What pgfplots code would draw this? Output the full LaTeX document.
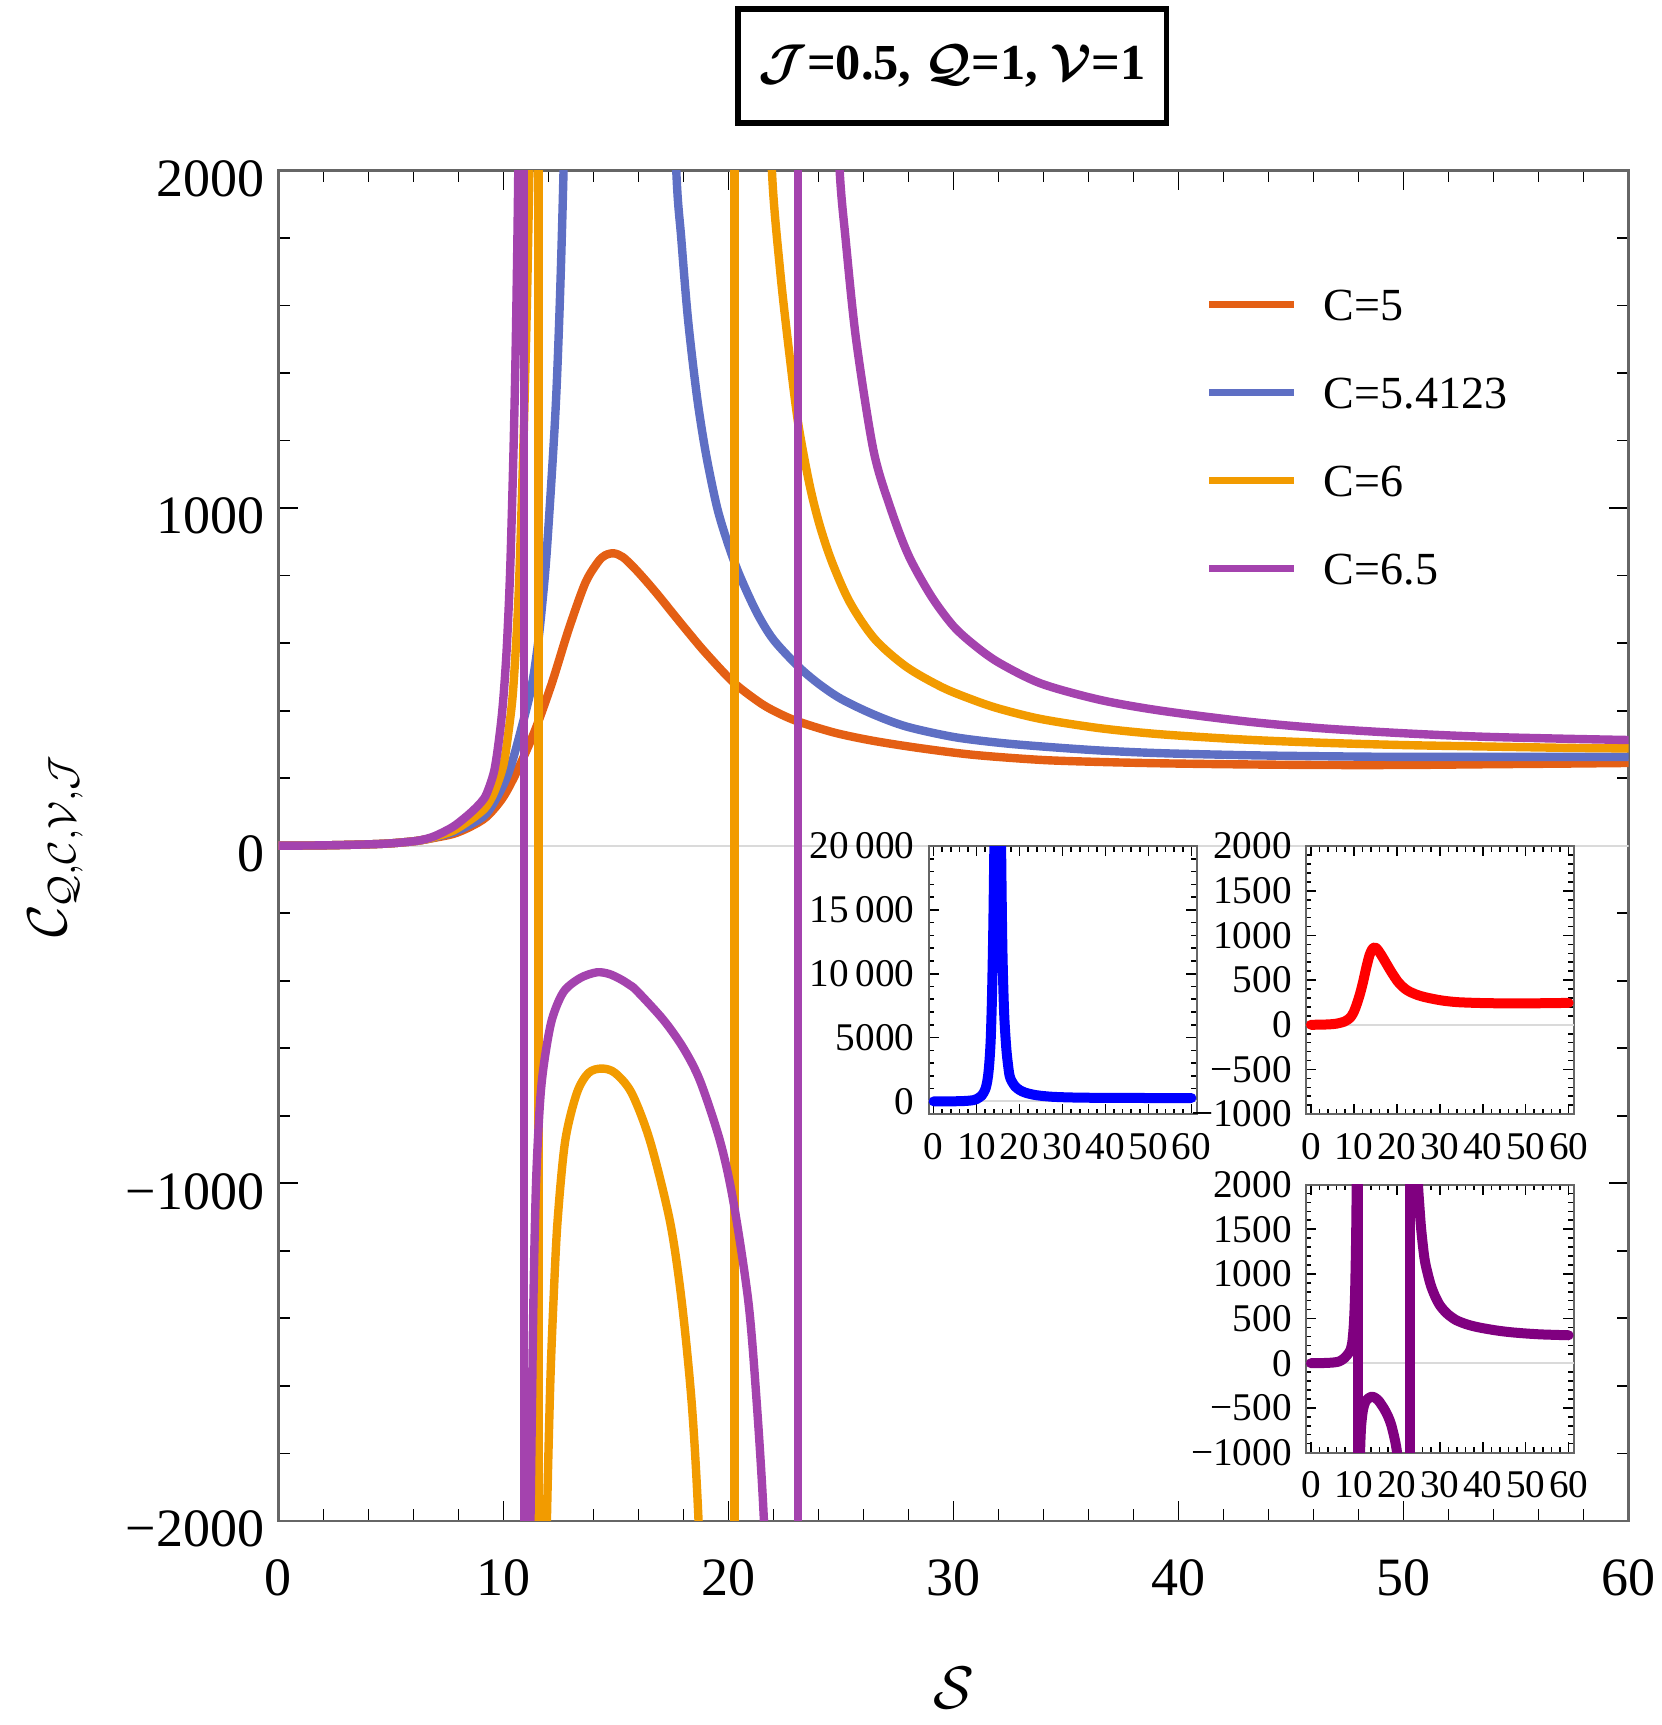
\RequirePackage{fix-cm}
\documentclass[border=0pt]{standalone}
\usepackage{fontspec}
\setmainfont{Liberation Serif}
\usepackage{pgfplots}
\pgfplotsset{compat=1.18}
\usepackage{pgfplotstable}

\definecolor{cfive}{HTML}{E45F14}
\definecolor{cblue}{HTML}{5E6FC4}
\definecolor{csix}{HTML}{F29B00}
\definecolor{cpurp}{HTML}{A443AE}
\definecolor{zline}{HTML}{DADADA}
\definecolor{frameg}{HTML}{666666}
\definecolor{insetpurple}{HTML}{800080}

% C = 5
\pgfplotstableread{
x y
0 0
2 1
4 4
5 7
6 13
6.5 18
7 24
7.78 35
8.5 55
9.26 86
10 145
10.67 230
11.41 343
12.15 481
12.89 639
13.63 777
14.2 840
14.52 860
14.9 866
15.3 855
15.78 825
16.3 787
16.9 740
17.6 682
18.3 625
19.0 570
20.2 485
21.3 428
22.0 400
23.0 370
24.7 335
26.4 311
28.5 289
30.9 269
33.9 254
36.5 248
39.2 244
42.5 241
46.3 239
50 239
53.4 241
57 243
60 245
}\cfivetab

% C = 5.4123, left and right of the peak
\pgfplotstableread{
x y
0 0
2 1
4 4
5 7
6 13
6.5 18
7 26
7.78 40
8.5 62
9.26 96
10 180
10.44 260
11.19 452
11.5 580
11.7 700
11.93 876
12.3 1271
12.5 1600
12.67 2000
12.85 2600
13.2 3500
}\cblueA
\pgfplotstableread{
x y
17.1 3500
17.4 2600
17.68 2000
17.9 1800
18.2 1560
18.6 1330
19.0 1160
19.5 1000
20.0 890
20.5 800
21.26 690
22.0 610
23.1 531
24.0 480
25.0 435
26.4 390
27.9 353
30.0 322
32.0 305
33.9 294
36.5 282
39.2 274
43 268
46.3 265
50 263
55 263
60 263
}\cblueB

% C = 5.4123, full peak for the inset
\pgfplotstableread{
x y
0 0
2 1
4 4
6 13
7.78 40
9.26 96
10 180
11.19 452
11.93 876
12.3 1271
12.67 2000
13.0 3200
13.3 5000
13.6 8500
13.9 14000
14.2 22000
14.5 30000
15.0 33000
15.4 30000
15.7 20000
16.0 12000
16.4 7000
16.9 4200
17.3 2900
17.68 2000
18.2 1560
19.0 1160
20.0 890
21.26 690
23.1 531
25.0 435
27.9 353
32.0 305
36.5 282
43 268
50 263
60 263
}\cblueinset

% C = 6, three branches
\pgfplotstableread{
x y
0 0
2 1
4 4
5 7
6 13
6.5 18
7 27
7.78 45
8.5 75
9.0 100
9.26 118
9.6 160
10.0 240
10.25 350
10.44 470
10.67 740
10.85 1100
11.0 1480
11.1 1800
11.2 2200
11.3 2800
11.4 3400
}\csixA
\pgfplotstableread{
x y
11.7 -3000
11.8 -2500
11.93 -2000
12.08 -1595
12.22 -1354
12.4 -1116
12.74 -876
13.26 -733
13.78 -673
14.37 -660
14.96 -673
15.7 -733
16.52 -876
17.41 -1116
17.93 -1354
18.37 -1654
18.67 -2000
19.0 -2600
19.3 -3100
}\csixB
\pgfplotstableread{
x y
21.6 3000
21.75 2500
21.93 2000
22.3 1700
22.7 1460
23.1 1250
23.6 1070
24.05 950
24.6 840
25.4 720
26.5 612
27.9 530
29.5 469
30.9 431
32.07 405
33.9 375
36.5 348
39.2 330
43 314
46.3 305
50 298
53.4 294
57 290
60 288
}\csixC

% C = 6.5, three branches
\pgfplotstableread{
x y
0 0
2 1
4 4
5 7
6 13
6.5 19
7 30
7.78 57
8.5 95
9.0 128
9.26 155
9.6 225
9.85 340
10.0 440
10.15 590
10.3 820
10.45 1180
10.55 1500
10.65 1950
10.75 2600
10.8 3100
}\csevA
\pgfplotstableread{
x y
11.05 -3000
11.1 -2500
11.2 -2000
11.33 -1354
11.45 -996
11.63 -756
11.82 -637
12.15 -516
12.67 -433
13.41 -392
14.15 -375
14.7 -380
15.19 -395
15.6 -412
15.93 -430
17.11 -516
18.0 -600
18.74 -697
19.63 -876
20.22 -1055
20.89 -1354
21.26 -1654
21.56 -1978
21.8 -2400
22.1 -3000
}\csevB
\pgfplotstableread{
x y
24.5 3000
24.7 2400
24.94 2000
25.2 1800
25.67 1500
26.44 1172
27.2 1000
28.0 860
29.0 740
30.0 650
31.0 590
32.07 540
33.9 480
36.5 432
39.2 400
43 368
46.3 348
50 333
53.4 323
57 317
60 313
}\csevC

\pgfplotsset{
  inset/.style={
    anchor=south west, scale only axis, width=67pt, height=67pt,
    xmin=-1.2, xmax=61.2, scaled ticks=false,
    xtick={0,10,...,60}, xticklabels={0,10,20,30,40,50,60},
    minor x tick num=4, minor y tick num=4,
    tick align=inside, major tick length=2.6pt, minor tick length=1.4pt,
    tick style={black, line width=0.4pt},
    axis line style={frameg, line width=0.5pt},
    ticklabel style={font=\fontsize{9.8}{11}\selectfont},
    xticklabel style={yshift=-1.2pt},
    every axis plot/.append style={line width=2.5pt, line join=round, line cap=round},
  },
}

\begin{document}
\begin{tikzpicture}
\path[use as bounding box] (-69.6pt,-51pt) rectangle (345.7pt,380.2pt);

\begin{axis}[
  at={(0pt,0pt)}, anchor=south west,
  scale only axis, width=337.5pt, height=337.6pt,
  xmin=0, xmax=60, ymin=-2000, ymax=2000,
  xtick={0,10,...,60}, xticklabels={0,10,20,30,40,50,60},
  ytick={-2000,-1000,0,1000,2000}, yticklabels={−2000,−1000,0,1000,2000},
  minor x tick num=4, minor y tick num=4,
  tick align=inside, major tick length=5pt, minor tick length=3pt,
  tick style={black, line width=0.45pt},
  axis line style={frameg, line width=0.6pt},
  xticklabel style={font=\fontsize{13.5}{16}\selectfont, yshift=-6pt},
  yticklabel style={font=\fontsize{13.5}{16}\selectfont, yshift=-2pt},
  xlabel={$\mathcal{S}$},
  ylabel={$\mathcal{C}_{\mathcal{Q},\mathcal{C},\mathcal{V},\mathcal{J}}$},
  xlabel style={at={(axis description cs:0.5,-0.124)}, anchor=center, font=\fontsize{15}{18}\selectfont},
  ylabel style={at={(axis description cs:-0.165,0.5)}, anchor=center, font=\fontsize{14}{17}\selectfont},
  legend style={draw=none, fill=none, at={(axis description cs:0.686,0.9129)}, anchor=north west,
    inner sep=0pt, row sep=14.2pt, column sep=6.5pt, font=\fontsize{11.5}{13}\selectfont,
    nodes={inner sep=0pt, text height=7.8pt, text depth=0pt}, cells={anchor=west}},
  legend image code/.code={\draw[#1, line width=1.8pt, line cap=butt] (0pt,0pt) -- (21.3pt,0pt);},
  every axis plot/.append style={line width=2.1pt, line join=round},
]
\addplot[zline, line width=0.5pt, forget plot] coordinates {(0,0) (60,0)};

\addplot[cfive, smooth] table {\cfivetab};
\addlegendentry{C=5}

\addplot[cblue, smooth] table {\cblueA};
\addlegendentry{C=5.4123}
\addplot[cblue, smooth, forget plot] table {\cblueB};

\addplot[csix, smooth] table {\csixA};
\addlegendentry{C=6}
\addplot[csix, forget plot] coordinates {(11.55,3000) (11.55,-3000)};
\addplot[csix, smooth, forget plot] table {\csixB};
\addplot[csix, forget plot] coordinates {(20.26,-3000) (20.26,3000)};
\addplot[csix, smooth, forget plot] table {\csixC};

\addplot[cpurp, smooth] table {\csevA};
\addlegendentry{C=6.5}
\addplot[cpurp, forget plot] coordinates {(10.9,3000) (10.9,-3000)};
\addplot[cpurp, smooth, forget plot] table {\csevB};
\addplot[cpurp, forget plot] coordinates {(23.1,-3000) (23.1,3000)};
\addplot[cpurp, smooth, forget plot] table {\csevC};
\end{axis}

\node[draw, line width=1.3pt, minimum width=107pt, minimum height=28.5pt, inner sep=0pt,
  font=\fontsize{12.6}{15}\selectfont\bfseries] at (168.4pt,363.7pt)
  {{\boldmath$\mathcal{J}$}=0.5, {\boldmath$\mathcal{Q}$}=1, {\boldmath$\mathcal{V}$}=1};

\begin{axis}[inset, at={(162.5pt,101.7pt)},
  ymin=-1000, ymax=20000,
  ytick={0,5000,10000,15000,20000}, yticklabels={0,5000,10\,000,15\,000,20\,000}]
\addplot[zline, line width=0.5pt] coordinates {(-1.2,0) (61.2,0)};
\addplot[blue, smooth] table {\cblueinset};
\end{axis}

\begin{axis}[inset, at={(256.8pt,101.7pt)},
  ymin=-1000, ymax=2000,
  ytick={-1000,-500,0,500,1000,1500,2000}, yticklabels={−1000,−500,0,500,1000,1500,2000}]
\addplot[zline, line width=0.5pt] coordinates {(-1.2,0) (61.2,0)};
\addplot[red, smooth] table {\cfivetab};
\end{axis}

\begin{axis}[inset, at={(256.8pt,17.1pt)},
  ymin=-1000, ymax=2000,
  ytick={-1000,-500,0,500,1000,1500,2000}, yticklabels={−1000,−500,0,500,1000,1500,2000}]
\addplot[zline, line width=0.5pt] coordinates {(-1.2,0) (61.2,0)};
\addplot[insetpurple, smooth] table {\csevA};
\addplot[insetpurple] coordinates {(10.9,3000) (10.9,-3000)};
\addplot[insetpurple, smooth] table {\csevB};
\addplot[insetpurple] coordinates {(23.1,-3000) (23.1,3000)};
\addplot[insetpurple, smooth] table {\csevC};
\end{axis}
\end{tikzpicture}
\end{document}
